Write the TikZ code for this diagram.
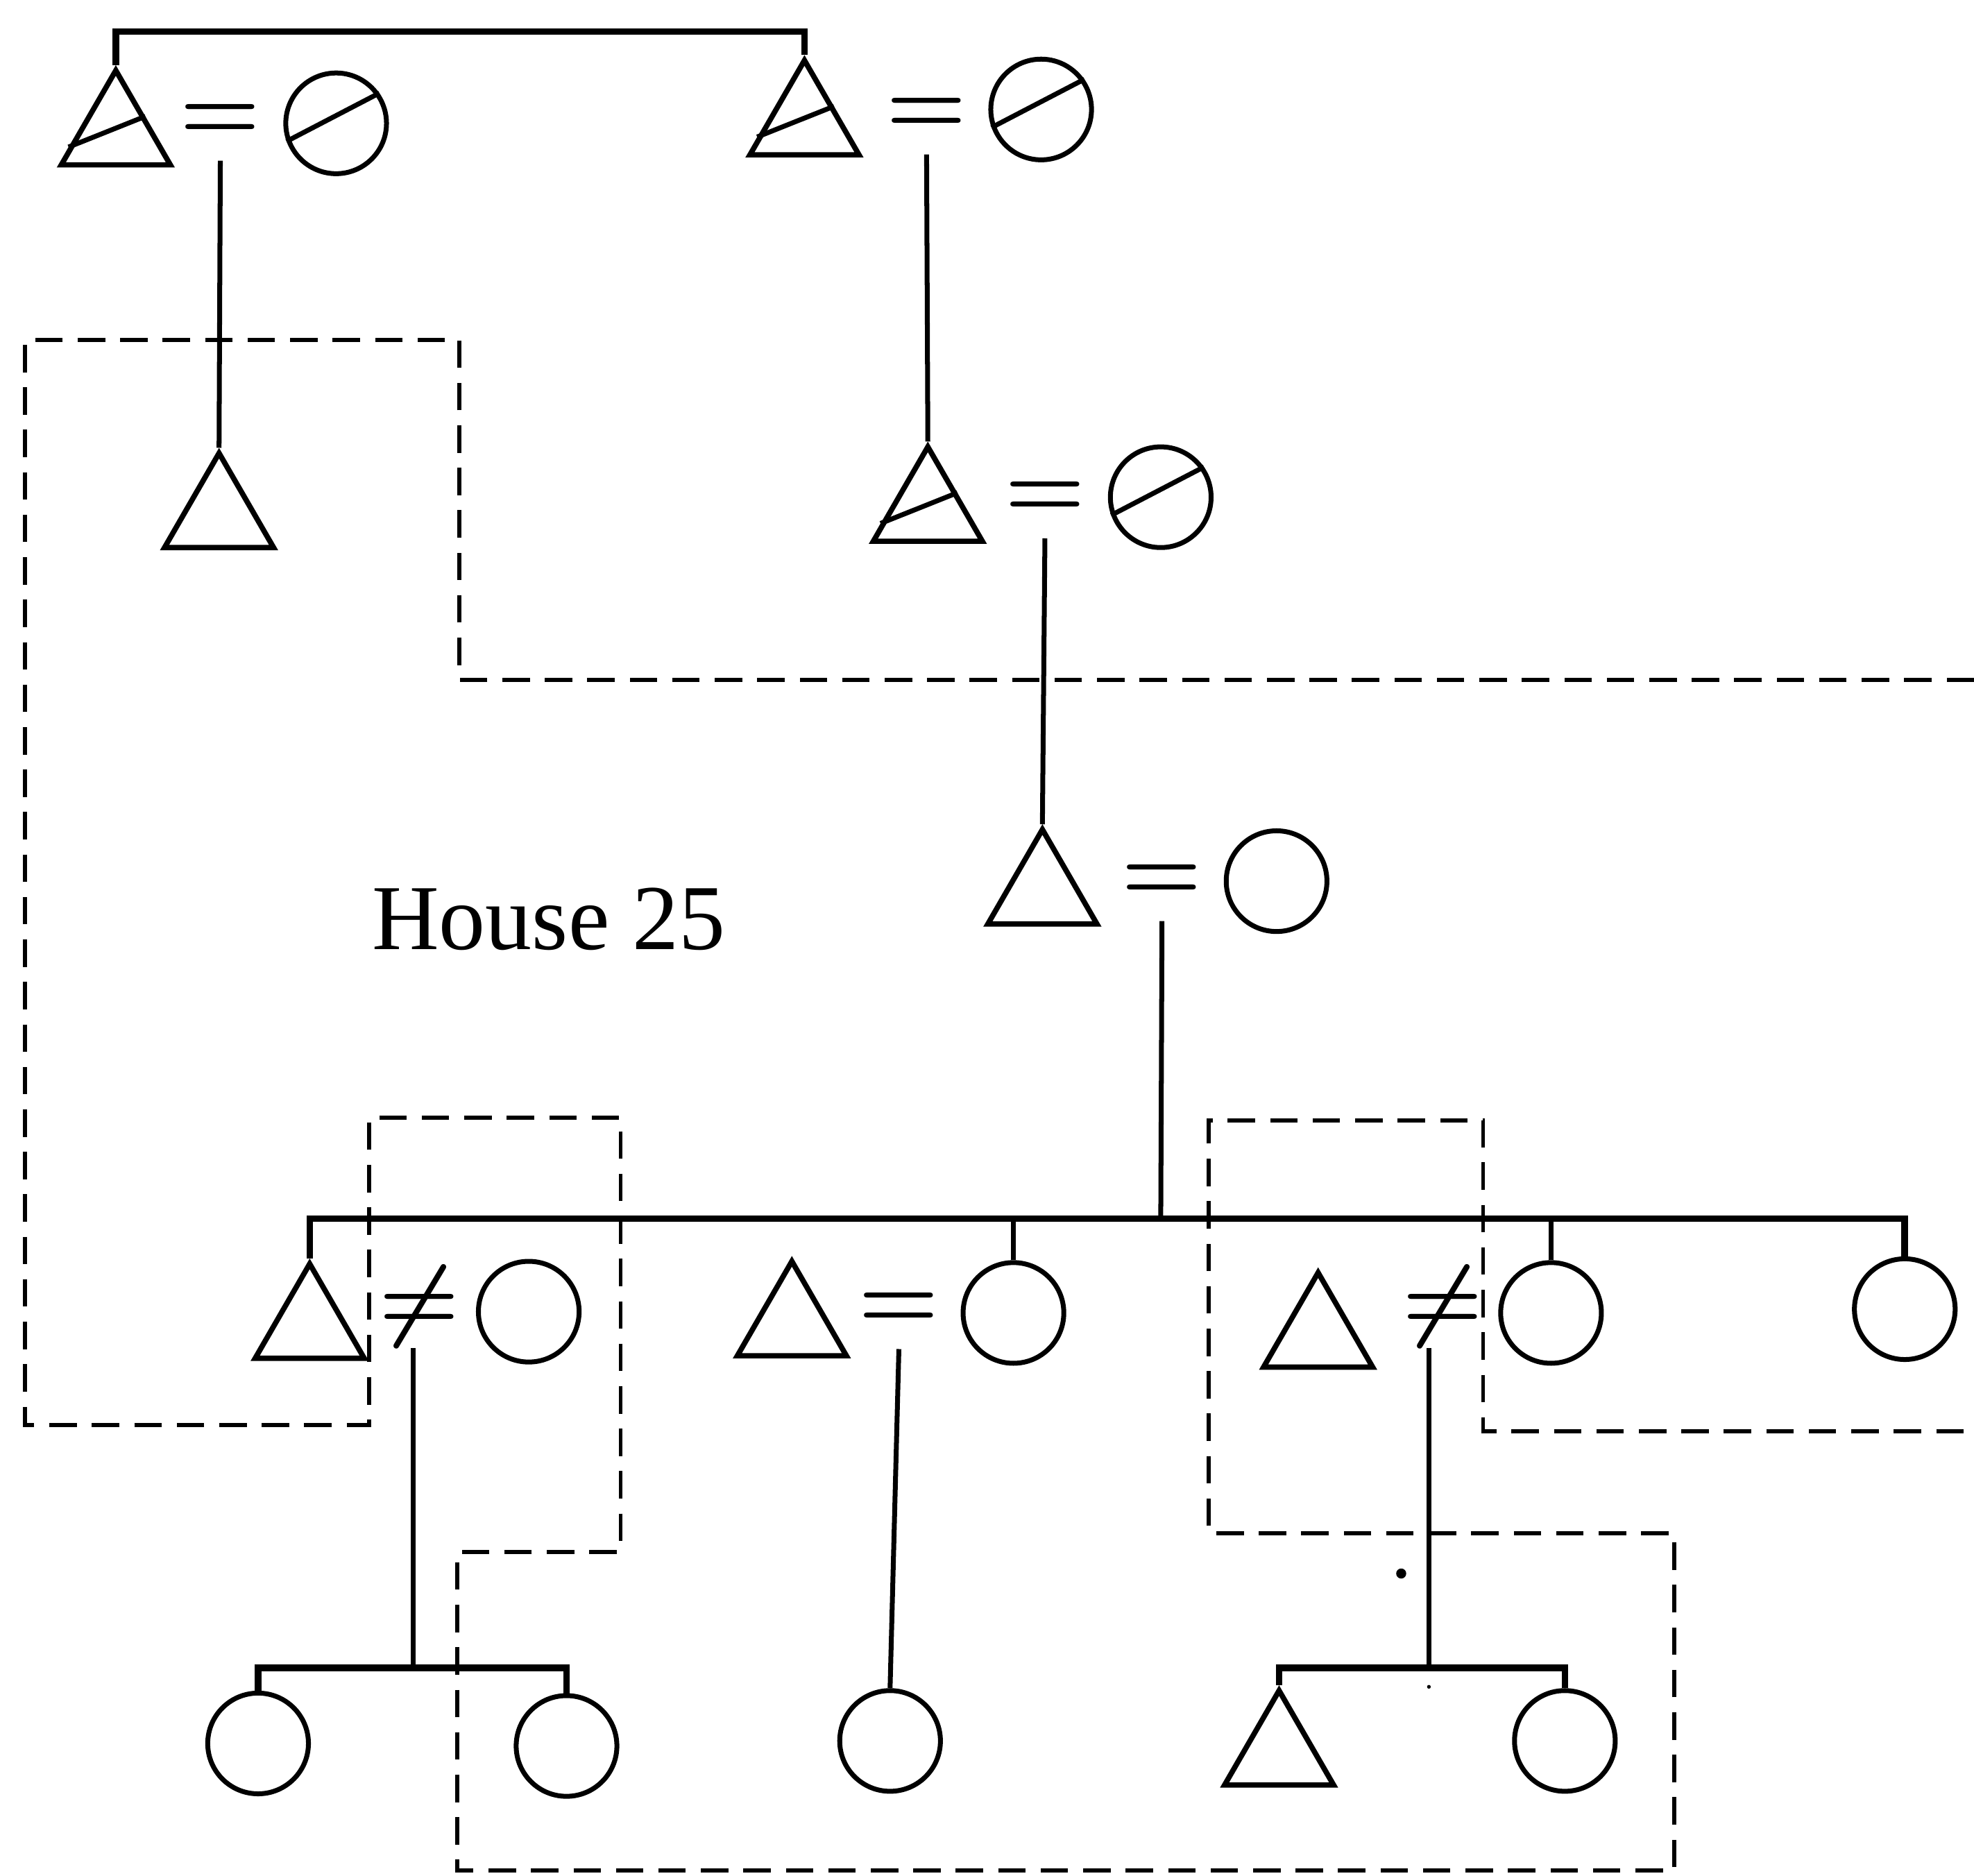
\documentclass[tikz,border=0pt]{standalone}
\usepackage[no-math]{fontspec}
\setmainfont{Liberation Serif}
\usetikzlibrary{shapes.geometric, calc}

\begin{document}
\begin{tikzpicture}[
    male/.style={regular polygon, regular polygon sides=3, draw, line width=1.2pt, minimum size=1cm, inner sep=0pt},
    female/.style={circle, draw, line width=1.1pt, minimum size=0.8cm, inner sep=0pt},
    sign/.style={inner sep=0pt, minimum height=0.6cm, font=\fontsize{22}{22}\selectfont\boldmath},
    line/.style={line width=1.1pt},
    bar/.style={line width=1.5pt},
    house/.style={dash pattern=on 6.2pt off 3.4pt, line width=0.9pt}
]
\useasboundingbox (0,0) rectangle (15.68,14.90);

% first generation
\node[male] (t1) at (0.92,13.84) {};
\node[sign] (m1) at (1.75,13.93) {$=$};
\node[female] (c1) at (2.67,13.92) {};
\node[male] (t1b) at (6.39,13.92) {};
\node[sign] (m1b) at (7.36,13.98) {$=$};
\node[female] (c1b) at (8.27,14.03) {};

% second generation
\node[male] (t2) at (1.74,10.80) {};
\node[male] (t3) at (7.37,10.85) {};
\node[sign] (m3) at (8.30,10.93) {$=$};
\node[female] (c3) at (9.22,10.95) {};

% third generation
\node[male] (t4) at (8.28,7.81) {};
\node[sign] (m4) at (9.23,7.89) {$=$};
\node[female] (c4) at (10.14,7.90) {};

\node[font=\fontsize{21}{25}\selectfont] (house) at (4.36,7.60) {House 25};

% siblings
\node[male] (t5) at (2.46,4.36) {};
\node[sign] (m5) at (3.33,4.52) {$\neq$};
\node[female] (c5) at (4.20,4.48) {};
\node[male] (t6) at (6.29,4.38) {};
\node[sign] (m6) at (7.14,4.49) {$=$};
\node[female] (c6) at (8.05,4.47) {};
\node[male] (t7) at (10.47,4.29) {};
\node[sign] (m7) at (11.46,4.52) {$\neq$};
\node[female] (c7) at (12.32,4.47) {};
\node[female] (c8) at (15.13,4.50) {};

% children
\node[female] (c9) at (2.05,1.05) {};
\node[female] (c10) at (4.50,1.03) {};
\node[female] (c11) at (7.07,1.07) {};
\node[male] (t8) at (10.16,0.97) {};
\node[female] (c12) at (12.43,1.07) {};

\node[circle, fill, inner sep=0pt, minimum size=0.08cm] (dot1) at (11.13,2.40) {};
\node[circle, fill, inner sep=0pt, minimum size=0.03cm] (dot2) at (11.35,1.50) {};

% deceased
\draw[line] ($(t1.corner 2)!0.2!(t1.corner 1)$) -- ($(t1.corner 3)!0.5!(t1.corner 1)$);
\draw[line] ($(t1b.corner 2)!0.2!(t1b.corner 1)$) -- ($(t1b.corner 3)!0.5!(t1b.corner 1)$);
\draw[line] ($(t3.corner 2)!0.2!(t3.corner 1)$) -- ($(t3.corner 3)!0.5!(t3.corner 1)$);
\draw[line] (c1.200) -- (c1.35);
\draw[line] (c1b.200) -- (c1b.35);
\draw[line] (c3.200) -- (c3.35);

% descent
\coordinate (top) at (6.39,14.65);
\draw[bar] (t1.north) |- (top) -- (t1b.north);
\draw[line] (m1.south) -- (t2.north);
\draw[line] (m1b.south) -- (t3.north);
\draw[line] (m3.south) -- (t4.north);

\coordinate (sib) at (9.22,5.22);
\draw[line] (m4.south) -- (sib);
\draw[bar] (t5.north) |- (sib) -| (c8.north);
\draw[line] (c6.north) -- (c6.north |- sib);
\draw[line] (c7.north) -- (c7.north |- sib);

\coordinate (kids1) at (3.28,1.65);
\coordinate (kids2) at (11.35,1.65);
\draw[line] (m5.south -| kids1) -- (kids1);
\draw[bar] (c9.north) |- (kids1) -| (c10.north);
\draw[line] (m6.south) -- (c11.north);
\draw[line] (m7.south -| kids2) -- (kids2);
\draw[bar] (t8.north) |- (kids2) -| (c12.north);

% house boundary
\draw[house] (15.68,9.50) -- (3.65,9.50) -- (3.65,12.20) -- (0.20,12.20) -- (0.20,3.58)
    -- (2.93,3.58) -- (2.93,6.02) -- (4.93,6.02) -- (4.93,2.57) -- (3.63,2.57)
    -- (3.63,0.04) -- (13.30,0.04) -- (13.30,2.72) -- (9.60,2.72) -- (9.60,6.00)
    -- (11.78,6.00) -- (11.78,3.53) -- (15.68,3.53);
\end{tikzpicture}
\end{document}
